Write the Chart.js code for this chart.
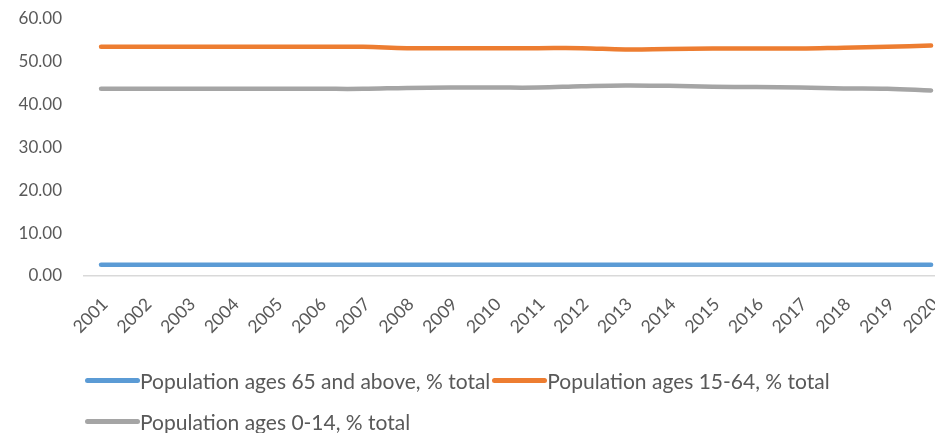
<!DOCTYPE html>
<html>
<head>
<meta charset="utf-8">
<title>Population by age group</title>
<script src="https://cdn.jsdelivr.net/npm/chart.js@4/dist/chart.umd.min.js"></script>
<style>
  html, body { margin: 0; padding: 0; background: #fff; }
  #wrap { position: relative; width: 935px; height: 433px; }
  #chart { position: absolute; left: 0; top: 0; }
  #legend {
    position: absolute; left: 85px; top: 360px; width: 780px;
    display: flex; flex-wrap: wrap;
    font-family: Lato, "Open Sans", sans-serif; font-size: 21px; color: #595959;
  }
  .item { display: flex; align-items: center; height: 41px; margin-right: 2px; white-space: nowrap; }
  .swatch { width: 55px; height: 5px; border-radius: 2.5px; margin-right: 0; }
</style>
</head>
<body>
<div id="wrap">
  <canvas id="chart" width="935" height="433"></canvas>
  <div id="legend"></div>
</div>
<script>
// Years on the horizontal axis
const years = [2001, 2002, 2003, 2004, 2005, 2006, 2007, 2008, 2009, 2010,
               2011, 2012, 2013, 2014, 2015, 2016, 2017, 2018, 2019, 2020];

// Share of total population by age group (%)
const ages65Plus = [2.6, 2.6, 2.6, 2.6, 2.6, 2.6, 2.6, 2.6, 2.6, 2.6,
                    2.6, 2.6, 2.6, 2.6, 2.6, 2.6, 2.6, 2.6, 2.6, 2.6];
const ages15to64 = [53.5, 53.5, 53.5, 53.5, 53.5, 53.5, 53.5, 53.2, 53.2, 53.2,
                    53.2, 53.2, 52.9, 53.0, 53.1, 53.1, 53.1, 53.3, 53.5, 53.8];
const ages0to14  = [43.7, 43.7, 43.7, 43.7, 43.7, 43.7, 43.7, 43.9, 44.0, 44.0,
                    44.0, 44.3, 44.5, 44.4, 44.2, 44.1, 44.0, 43.8, 43.7, 43.3];

// Value axis ticks
const yTicks = [0, 10, 20, 30, 40, 50, 60];

const seriesLabels = [
  'Population ages 65 and above, % total',
  'Population ages 15-64, % total',
  'Population ages 0-14, % total'
];
const seriesColors = ['#5B9BD5', '#ED7D31', '#A5A5A5'];

const toPoints = vals => vals.map((v, i) => ({ x: years[i], y: v }));
const textColor = '#595959';
const fontFamily = 'Lato, "Open Sans", sans-serif';

const datasets = [ages65Plus, ages15to64, ages0to14].map((vals, i) => ({
  label: seriesLabels[i],
  data: toPoints(vals),
  borderColor: seriesColors[i],
  backgroundColor: seriesColors[i],
  borderWidth: 4.5,
  borderCapStyle: 'round',
  borderJoinStyle: 'round',
  tension: 0.4,
  pointRadius: 0,
  pointHoverRadius: 0,
  fill: false,
  clip: 10
}));

const chart = new Chart(document.getElementById('chart'), {
  type: 'line',
  data: { datasets },
  options: {
    responsive: false,
    animation: false,
    events: [],
    layout: { padding: { top: 19, right: 0, left: 0, bottom: 0 } },
    plugins: {
      legend: { display: false },
      tooltip: { enabled: false }
    },
    scales: {
      x: {
        type: 'linear',
        min: 2000.61,
        max: 2020.09,
        afterBuildTicks: scale => { scale.ticks = years.map(v => ({ value: v })); },
        afterFit: scale => { scale.height = 157; scale.paddingRight = 0; },
        grid: { display: false, drawTicks: false },
        border: { display: true, color: '#D9D9D9', width: 1.5 },
        ticks: {
          autoSkip: false,
          minRotation: 45,
          maxRotation: 45,
          padding: 18,
          labelOffset: 4,
          color: textColor,
          font: { family: fontFamily, size: 17.5 },
          callback: v => String(v)
        }
      },
      y: {
        min: 0,
        max: 60,
        afterBuildTicks: scale => { scale.ticks = yTicks.map(v => ({ value: v })); },
        afterFit: scale => { scale.width = 84; scale.paddingTop = 0; scale.paddingBottom = 0; },
        grid: { display: false, drawTicks: false },
        border: { display: false },
        ticks: {
          padding: 22,
          color: textColor,
          font: { family: fontFamily, size: 17 },
          callback: v => Number(v).toFixed(2)
        }
      }
    }
  }
});

// Legend built from the chart's datasets
const legend = document.getElementById('legend');
chart.data.datasets.forEach(ds => {
  const item = document.createElement('div');
  item.className = 'item';
  const sw = document.createElement('span');
  sw.className = 'swatch';
  sw.style.background = ds.borderColor;
  const txt = document.createElement('span');
  txt.textContent = ds.label;
  item.appendChild(sw);
  item.appendChild(txt);
  legend.appendChild(item);
});
</script>
</body>
</html>
